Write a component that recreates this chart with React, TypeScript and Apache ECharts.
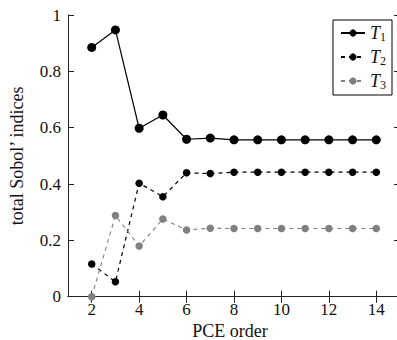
import React, { useEffect, useRef } from "react";
import * as echarts from "echarts";

const orders = [2, 3, 4, 5, 6, 7, 8, 9, 10, 11, 12, 13, 14];
const t1 = [0.885, 0.947, 0.598, 0.645, 0.559, 0.563, 0.557, 0.557, 0.557, 0.557, 0.557, 0.557, 0.557];
const t2 = [0.116, 0.053, 0.403, 0.355, 0.44, 0.437, 0.442, 0.442, 0.442, 0.442, 0.442, 0.442, 0.442];
const t3 = [0.0, 0.288, 0.18, 0.276, 0.237, 0.243, 0.242, 0.242, 0.242, 0.242, 0.242, 0.242, 0.242];
const xTicks = [2, 4, 6, 8, 10, 12, 14];
const yTicks = [0, 0.2, 0.4, 0.6, 0.8, 1];
const seriesNames = ["T1", "T2", "T3"];

const FONT = "Liberation Serif";

export default function App() {
  const ref = useRef<HTMLDivElement>(null);
  useEffect(() => {
    if (!ref.current) return;
    const chart = echarts.init(ref.current, undefined, { renderer: "svg" });
    const pairs = (ys: number[]) => orders.map((x, i) => [x, ys[i]]);
    const axisLine = { show: true, lineStyle: { color: "#222", width: 1 } };
    const tickStyle = { color: "#222", width: 1 };
    chart.setOption({
      animation: false,
      textStyle: { fontFamily: FONT },
      grid: { left: 60, top: 15, width: 340, height: 281.7, containLabel: false },
      xAxis: [
        {
          type: "value",
          min: 1,
          max: 15,
          position: "bottom",
          axisLine,
          splitLine: { show: false },
          axisTick: { show: true, inside: true, length: 6, lineStyle: tickStyle, customValues: xTicks },
          axisLabel: { fontFamily: FONT, fontSize: 17, color: "#111", margin: 4, customValues: xTicks },
        },
        {
          type: "value",
          min: 1,
          max: 15,
          position: "top",
          axisLine,
          splitLine: { show: false },
          axisTick: { show: true, inside: true, length: 6, lineStyle: tickStyle, customValues: xTicks },
          axisLabel: { show: false, customValues: xTicks },
        },
      ],
      yAxis: [
        {
          type: "value",
          min: 0,
          max: 1,
          interval: 0.2,
          position: "left",
          axisLine,
          splitLine: { show: false },
          axisTick: { show: true, inside: true, length: 6, lineStyle: tickStyle },
          axisLabel: {
            fontFamily: FONT,
            fontSize: 17,
            color: "#111",
            margin: 7,
            formatter: (v: number) => (yTicks.includes(Math.round(v * 10) / 10) ? String(Math.round(v * 10) / 10) : ""),
          },
          name: "total Sobol’ indices",
          nameLocation: "middle",
          nameGap: 42,
          nameRotate: 90,
          nameTextStyle: { fontFamily: FONT, fontSize: 18, color: "#111" },
        },
        {
          type: "value",
          min: 0,
          max: 1,
          interval: 0.2,
          position: "right",
          axisLine,
          splitLine: { show: false },
          axisTick: { show: true, inside: true, length: 6, lineStyle: tickStyle },
          axisLabel: { show: false },
        },
      ],
      legend: {
        data: seriesNames,
        orient: "vertical",
        right: 28,
        top: 20,
        itemWidth: 24,
        itemHeight: 9,
        itemGap: 5,
        padding: [4, 6, 4, 7],
        borderColor: "#000",
        borderWidth: 1,
        borderRadius: 0,
        backgroundColor: "#fff",
        formatter: (name: string) => `{i|${name[0]}}{s|${name.slice(1)}}`,
        textStyle: {
          rich: {
            i: { fontFamily: FONT, fontStyle: "italic", fontSize: 18, color: "#111" },
            s: { fontFamily: FONT, fontSize: 12, color: "#111", padding: [8, 0, 0, 0] },
          },
        },
      },
      graphic: [
        {
          type: "text",
          x: 230,
          y: 331,
          style: {
            text: "PCE order",
            fontFamily: FONT,
            fontSize: 18,
            fill: "#111",
            align: "center",
            verticalAlign: "middle",
          },
        },
      ],
      series: [
        {
          name: "T1",
          type: "line",
          data: pairs(t1),
          symbol: "circle",
          symbolSize: 9,
          lineStyle: { color: "#000", width: 1.2, type: "solid" },
          itemStyle: { color: "#000" },
        },
        {
          name: "T2",
          type: "line",
          data: pairs(t2),
          symbol: "circle",
          symbolSize: 7.5,
          lineStyle: { color: "#000", width: 1.2, type: [4, 4] },
          itemStyle: { color: "#000" },
        },
        {
          name: "T3",
          type: "line",
          data: pairs(t3),
          symbol: "circle",
          symbolSize: 7.5,
          lineStyle: { color: "#808080", width: 1.1, type: [4, 4] },
          itemStyle: { color: "#808080" },
        },
      ],
    });
    return () => chart.dispose();
  }, []);
  return (
    <div style={{ position: "fixed", left: 0, top: 0, width: 397, height: 340, overflow: "hidden", background: "#fff" }}>
      <div ref={ref} style={{ width: 420, height: 340 }} />
    </div>
  );
}
